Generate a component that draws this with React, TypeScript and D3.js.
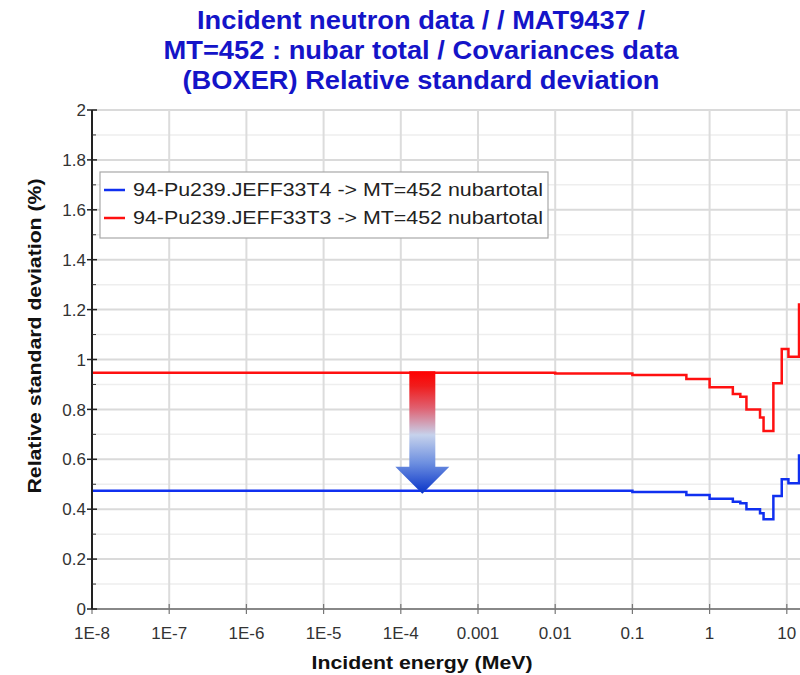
import React from "react";
import * as d3 from "d3";

// ---- data ----
const stepEnergies = [1e-8, 0.01, 0.1, 0.5, 1, 2, 2.5, 3, 4.5, 5, 6.7, 8.6, 10.5, 14.4, 20];
const redValues = [0.947, 0.944, 0.938, 0.922, 0.889, 0.862, 0.851, 0.8, 0.768, 0.713, 0.905, 1.042, 1.011, 1.22];
const blueValues = [0.474, 0.474, 0.469, 0.457, 0.442, 0.43, 0.424, 0.4, 0.384, 0.36, 0.453, 0.52, 0.504, 0.615];
const seriesNames = [
  "94-Pu239.JEFF33T4 -> MT=452 nubartotal",
  "94-Pu239.JEFF33T3 -> MT=452 nubartotal",
];
const xTickValues = [1e-8, 1e-7, 1e-6, 1e-5, 1e-4, 1e-3, 1e-2, 1e-1, 1, 10];
const xTickLabels = ["1E-8", "1E-7", "1E-6", "1E-5", "1E-4", "0.001", "0.01", "0.1", "1", "10"];
const yMajorTicks = [0, 0.2, 0.4, 0.6, 0.8, 1, 1.2, 1.4, 1.6, 1.8, 2];
const yTickLabels = ["0", "0.2", "0.4", "0.6", "0.8", "1", "1.2", "1.4", "1.6", "1.8", "2"];
const yMinorTicks = [0.1, 0.3, 0.5, 0.7, 0.9, 1.1, 1.3, 1.5, 1.7, 1.9];
const titleLines = [
  "Incident neutron data / / MAT9437 /",
  "MT=452 : nubar total / Covariances data",
  "(BOXER) Relative standard deviation",
];
const arrowEnergy = 1.9e-4;

const W = 800;
const H = 675;
const left = 92;
const top = 110;
const bottom = 609;
const pxPerDecade = 77.2;
const right = left + Math.log10(20 / 1e-8) * pxPerDecade;

const FONT = "'Liberation Sans', Arial, Helvetica, sans-serif";

export default function App() {
  const x = d3.scaleLog().domain([1e-8, 20]).range([left, right]);
  const y = d3.scaleLinear().domain([0, 2]).range([bottom, top]);

  const mk = (vals: number[]) =>
    stepEnergies.map((e, i) => [e, vals[Math.min(i, vals.length - 1)]] as [number, number]);
  const line = d3
    .line<[number, number]>()
    .x((d) => x(d[0]))
    .y((d) => y(d[1]))
    .curve(d3.curveStepAfter);

  const ax = x(arrowEnergy);
  const aTop = y(redValues[0]) - 1.5;
  const aTip = y(blueValues[0]) + 3;
  const shaftHW = 13;
  const headHW = 27;
  const headH = 27;
  const arrowPath = [
    [ax - shaftHW, aTop],
    [ax + shaftHW, aTop],
    [ax + shaftHW, aTip - headH],
    [ax + headHW, aTip - headH],
    [ax, aTip],
    [ax - headHW, aTip - headH],
    [ax - shaftHW, aTip - headH],
  ]
    .map((p, i) => (i === 0 ? "M" : "L") + p[0] + "," + p[1])
    .join("") + "Z";

  return (
    <svg
      width={W}
      height={H}
      style={{ position: "absolute", left: 0, top: 0, background: "#fff" }}
      fontFamily={FONT}
    >
      <defs>
        <clipPath id="plotclip">
          <rect x={left} y={top - 5} width={W - left} height={bottom - top + 5} />
        </clipPath>
        <linearGradient id="arrowGrad" gradientUnits="userSpaceOnUse" x1={0} x2={0} y1={aTop} y2={aTip}>
          <stop offset="0" stopColor="#ff0000" />
          <stop offset="0.12" stopColor="#f01c1c" />
          <stop offset="0.3" stopColor="#e06070" />
          <stop offset="0.52" stopColor="#c6d2ec" />
          <stop offset="0.75" stopColor="#6d8fe0" />
          <stop offset="1" stopColor="#0833c8" />
        </linearGradient>
      </defs>

      {/* grid */}
      {yMinorTicks.map((v) => (
        <line key={"gm" + v} x1={left} x2={W} y1={y(v)} y2={y(v)} stroke="#eeeeee" strokeWidth={1.5} />
      ))}
      {yMajorTicks.map((v) => (
        <line key={"gM" + v} x1={left} x2={W} y1={y(v)} y2={y(v)} stroke="#dadada" strokeWidth={2} />
      ))}
      {xTickValues.map((v) => (
        <line key={"gx" + v} x1={x(v)} x2={x(v)} y1={top} y2={bottom} stroke="#dcdcdc" strokeWidth={2} />
      ))}

      {/* series */}
      <g clipPath="url(#plotclip)">
        <path d={line(mk(redValues)) || ""} fill="none" stroke="#ff1010" strokeWidth={2.5} />
        <path d={line(mk(blueValues)) || ""} fill="none" stroke="#1030f0" strokeWidth={2.5} />
      </g>

      {/* arrow */}
      <path d={arrowPath} fill="url(#arrowGrad)" />

      {/* axes */}
      <line x1={left} x2={W} y1={bottom} y2={bottom} stroke="#888" strokeWidth={2} />
      {xTickValues.map((v, i) => (
        <g key={"xt" + v}>
          <line x1={x(v)} x2={x(v)} y1={bottom - 5} y2={bottom + 5} stroke="#777" strokeWidth={1.2} />
          <text x={x(v)} y={639} textAnchor="middle" fontSize={17} fill="#333">
            {xTickLabels[i]}
          </text>
        </g>
      ))}
      <line x1={left} x2={left} y1={top} y2={bottom} stroke="#222" strokeWidth={2} />
      {yMajorTicks.map((v, i) => (
        <g key={"yt" + v}>
          <line x1={left - 5} x2={left + 5} y1={y(v)} y2={y(v)} stroke="#222" strokeWidth={1.5} />
          <text x={left - 6} y={y(v)} dy="0.36em" textAnchor="end" fontSize={17} fill="#333">
            {yTickLabels[i]}
          </text>
        </g>
      ))}
      {yMinorTicks.map((v) => (
        <line key={"ym" + v} x1={left} x2={left + 4} y1={y(v)} y2={y(v)} stroke="#333" strokeWidth={1} />
      ))}

      {/* legend */}
      <rect x={100} y={172} width={448} height={66} fill="#fff" stroke="#a8a8a8" strokeWidth={1.2} />
      {seriesNames.map((name, i) => {
        const cy = 190 + i * 28;
        const col = i === 0 ? "#1030f0" : "#ff1010";
        return (
          <g key={name}>
            <line x1={104} x2={125} y1={cy} y2={cy} stroke={col} strokeWidth={2.5} />
            <text
              x={133}
              y={cy}
              dy="0.36em"
              fontSize={18}
              fill="#222"
              textLength={410}
              lengthAdjust="spacingAndGlyphs"
            >
              {name}
            </text>
          </g>
        );
      })}

      {/* title */}
      {titleLines.map((t, i) => {
        const widths = [448, 515, 477];
        return (
          <text
            key={t}
            x={421}
            y={29 + i * 30}
            textAnchor="middle"
            fontSize={26}
            fontWeight="bold"
            fill="#1414c8"
            textLength={widths[i]}
            lengthAdjust="spacingAndGlyphs"
          >
            {t}
          </text>
        );
      })}

      {/* axis labels */}
      <text
        x={422}
        y={669}
        textAnchor="middle"
        fontSize={19}
        fontWeight="bold"
        fill="#111"
        textLength={221}
        lengthAdjust="spacingAndGlyphs"
      >
        Incident energy (MeV)
      </text>
      <text
        transform={`translate(41,336) rotate(-90)`}
        textAnchor="middle"
        fontSize={18}
        fontWeight="bold"
        fill="#111"
        textLength={315}
        lengthAdjust="spacingAndGlyphs"
      >
        Relative standard deviation (%)
      </text>
    </svg>
  );
}
